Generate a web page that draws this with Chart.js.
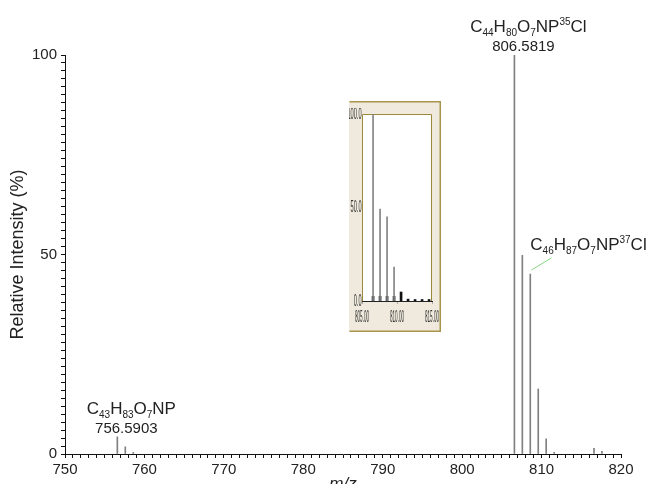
<!DOCTYPE html>
<html>
<head>
<meta charset="utf-8">
<script src="https://cdn.jsdelivr.net/npm/chart.js@4.4.1/dist/chart.umd.min.js"></script>
<style>
  html, body { margin: 0; padding: 0; background: #fff; overflow: hidden; }
  #wrap { position: relative; width: 648px; height: 484px; }
  #mainChart { position: absolute; left: 0; top: 0; }
  #insetChart { position: absolute; left: 349px; top: 101px; }
</style>
</head>
<body>
<div id="wrap">
  <canvas id="mainChart" width="648" height="484"></canvas>
  <canvas id="insetChart" width="92" height="231"></canvas>
</div>
<script>
// spectrum peaks (m/z, relative intensity %)
const peakMz = [756.59, 757.59, 758.60, 806.58, 807.58, 808.58, 809.58, 810.58, 811.58, 816.60, 817.60];
const peakIntensity = [4.3, 1.8, 0.4, 100, 49.8, 45.1, 16.3, 3.8, 0.4, 1.4, 0.7];

const xTickLabels = [750, 760, 770, 780, 790, 800, 810, 820];
const yTickLabels = [0, 50, 100];

// inset (zoom on 805-815)
const insetPeakMz = [806.58, 807.58, 808.58, 809.58];
const insetPeakIntensity = [100, 49.2, 45.0, 18.2];
const insetBaseMz = [806.58, 807.58, 808.58, 809.58, 810.58, 811.58, 812.58, 813.58, 814.58];
const insetBaseIntensity = [2.5, 2.5, 2.5, 2.5, 4.8, 1.0, 0.8, 0.8, 0.8];
const insetXTicks = [805, 810, 815];
const insetYTicks = [0, 50, 100];

// labels on peaks
const annotations = [
  { mz: 756.59, y: 4.3, formula: 'C_43H_83O_7NP', mass: '756.5903' },
  { mz: 806.58, y: 100, formula: 'C_44H_80O_7NP^35Cl', mass: '806.5819' },
  { mz: 808.58, y: 45.1, formula: 'C_46H_87O_7NP^37Cl', leader: true }
];

const FONT = '"Liberation Sans", Arial, sans-serif';
const TEXT = '#222';

function formulaParts(text) {
  return text.match(/_\d+|\^\d+|[^_^]+/g).map(p => {
    if (p[0] === '_') return { t: p.slice(1), size: 10, dy: 4 };
    if (p[0] === '^') return { t: p.slice(1), size: 10, dy: -7 };
    return { t: p, size: 17, dy: 0 };
  });
}

function drawFormula(ctx, text, x, y, align) {
  const parts = formulaParts(text);
  let w = 0;
  parts.forEach(p => {
    ctx.font = p.size + 'px ' + FONT;
    p.w = ctx.measureText(p.t).width;
    w += p.w;
  });
  let cx = align === 'center' ? x - w / 2 : x;
  ctx.textAlign = 'left';
  ctx.textBaseline = 'alphabetic';
  parts.forEach(p => {
    ctx.font = p.size + 'px ' + FONT;
    ctx.fillText(p.t, cx, y + p.dy);
    cx += p.w;
  });
}

const peakLabels = {
  id: 'peakLabels',
  afterDatasetsDraw(chart) {
    const { ctx, scales: { x, y } } = chart;
    ctx.save();
    ctx.fillStyle = TEXT;
    annotations.forEach(a => {
      const px = x.getPixelForValue(a.mz);
      const py = y.getPixelForValue(a.y);
      if (a.leader) {
        ctx.strokeStyle = '#86d486';
        ctx.lineWidth = 1;
        ctx.beginPath();
        ctx.moveTo(px + 1, py - 4);
        ctx.lineTo(px + 21, py - 16);
        ctx.stroke();
        drawFormula(ctx, a.formula, px, py - 24, 'left');
      } else {
        ctx.font = '15px ' + FONT;
        ctx.textAlign = 'center';
        ctx.textBaseline = 'alphabetic';
        ctx.fillText(a.mass, px + 9, py - 4);
        drawFormula(ctx, a.formula, px + 14, py - 23, 'center');
      }
    });
    // x axis title, partly below the frame
    ctx.font = 'italic 17px ' + FONT;
    ctx.textAlign = 'center';
    ctx.textBaseline = 'top';
    ctx.fillText('m/z', (chart.chartArea.left + chart.chartArea.right) / 2, 476);
    ctx.restore();
  }
};

new Chart(document.getElementById('mainChart'), {
  type: 'bar',
  data: {
    datasets: [{
      data: peakMz.map((m, i) => ({ x: m, y: peakIntensity[i] })),
      backgroundColor: '#808080',
      barThickness: 1,
      grouped: false
    }]
  },
  options: {
    responsive: false,
    animation: false,
    events: [],
    layout: { padding: { top: 55, right: 27, left: 0, bottom: 0 } },
    plugins: { legend: { display: false }, tooltip: { enabled: false } },
    scales: {
      x: {
        type: 'linear',
        offset: false,
        min: 750,
        max: 820,
        grid: { display: true, drawOnChartArea: false, tickLength: 4, color: '#111', offset: false },
        border: { display: true, color: '#111', width: 1 },
        ticks: {
          stepSize: 1,
          autoSkip: false,
          maxRotation: 0,
          padding: 3,
          color: TEXT,
          font: { family: FONT, size: 15 },
          callback: v => xTickLabels.includes(v) ? String(v) : ''
        },
        afterFit: s => { s.height = 30; }
      },
      y: {
        min: 0,
        max: 100,
        grid: { display: true, drawOnChartArea: false, tickLength: 4, color: '#111' },
        border: { display: true, color: '#111', width: 1 },
        ticks: {
          stepSize: 2,
          autoSkip: false,
          padding: 4,
          color: TEXT,
          font: { family: FONT, size: 15 },
          callback: v => yTickLabels.includes(v) ? String(v) : ''
        },
        title: {
          display: true,
          text: 'Relative Intensity (%)',
          color: TEXT,
          font: { family: FONT, size: 18 },
          padding: { top: 7, bottom: 0 }
        },
        afterFit: s => { s.width = 65; }
      }
    }
  },
  plugins: [peakLabels]
});

// ---- inset ----
const insetFrame = {
  id: 'insetFrame',
  beforeDraw(chart) {
    const { ctx, width, height, chartArea: a } = chart;
    ctx.save();
    ctx.fillStyle = '#efeadd';
    ctx.fillRect(0, 0, width, height);
    ctx.strokeStyle = '#a8944a';
    ctx.lineWidth = 1.5;
    ctx.beginPath();
    ctx.moveTo(0.5, 0.75);
    ctx.lineTo(width - 0.75, 0.75);
    ctx.lineTo(width - 0.75, height - 0.75);
    ctx.lineTo(0.5, height - 0.75);
    ctx.stroke();
    ctx.fillStyle = '#fff';
    ctx.fillRect(a.left, a.top, a.right - a.left, a.bottom - a.top);
    ctx.strokeStyle = '#9c8a3a';
    ctx.lineWidth = 1;
    ctx.beginPath();
    ctx.moveTo(a.left + 0.5, a.bottom);
    ctx.lineTo(a.left + 0.5, a.top + 0.5);
    ctx.lineTo(a.right - 0.5, a.top + 0.5);
    ctx.lineTo(a.right - 0.5, a.bottom);
    ctx.stroke();
    ctx.restore();
  },
  afterDraw(chart) {
    const { ctx, scales: { x, y } } = chart;
    ctx.save();
    ctx.beginPath();
    ctx.rect(0, 7, chart.width, chart.height - 7);
    ctx.clip();
    ctx.fillStyle = '#333';
    ctx.textBaseline = 'middle';
    insetYTicks.forEach(v => {
      const py = y.getPixelForValue(v);
      ctx.save();
      ctx.translate(x.left - 0.5, py);
      ctx.scale(0.33, 1);
      ctx.font = '17px ' + FONT;
      ctx.textAlign = 'right';
      ctx.fillText(v.toFixed(1), 0, 0);
      ctx.restore();
    });
    insetXTicks.forEach(v => {
      const px = x.getPixelForValue(v);
      ctx.save();
      ctx.translate(px, y.bottom + 16);
      ctx.scale(0.27, 1);
      ctx.font = '17px ' + FONT;
      ctx.textAlign = 'center';
      ctx.fillText(v.toFixed(2), 0, 0);
      ctx.restore();
    });
    ctx.restore();
  }
};

new Chart(document.getElementById('insetChart'), {
  type: 'bar',
  data: {
    datasets: [{
      data: insetPeakMz.map((m, i) => ({ x: m, y: insetPeakIntensity[i] })),
      backgroundColor: '#858585',
      barThickness: 1,
      grouped: false
    }, {
      data: insetBaseMz.map((m, i) => ({ x: m, y: insetBaseIntensity[i] })),
      backgroundColor: '#111',
      barThickness: 2,
      grouped: false
    }]
  },
  options: {
    responsive: false,
    animation: false,
    events: [],
    layout: { padding: { top: 13, right: 9, left: 0, bottom: 0 } },
    plugins: { legend: { display: false }, tooltip: { enabled: false } },
    scales: {
      x: {
        type: 'linear',
        offset: false,
        min: 805,
        max: 815,
        grid: { display: true, drawOnChartArea: false, tickLength: 3, color: '#aaa', offset: false },
        border: { display: true, color: '#222', width: 1 },
        ticks: { stepSize: 5, display: false },
        afterFit: s => { s.height = 31; }
      },
      y: {
        min: 0,
        max: 100,
        grid: { display: false },
        border: { display: false },
        ticks: { stepSize: 50, display: false },
        afterFit: s => { s.width = 13; }
      }
    }
  },
  plugins: [insetFrame]
});
</script>
</body>
</html>
